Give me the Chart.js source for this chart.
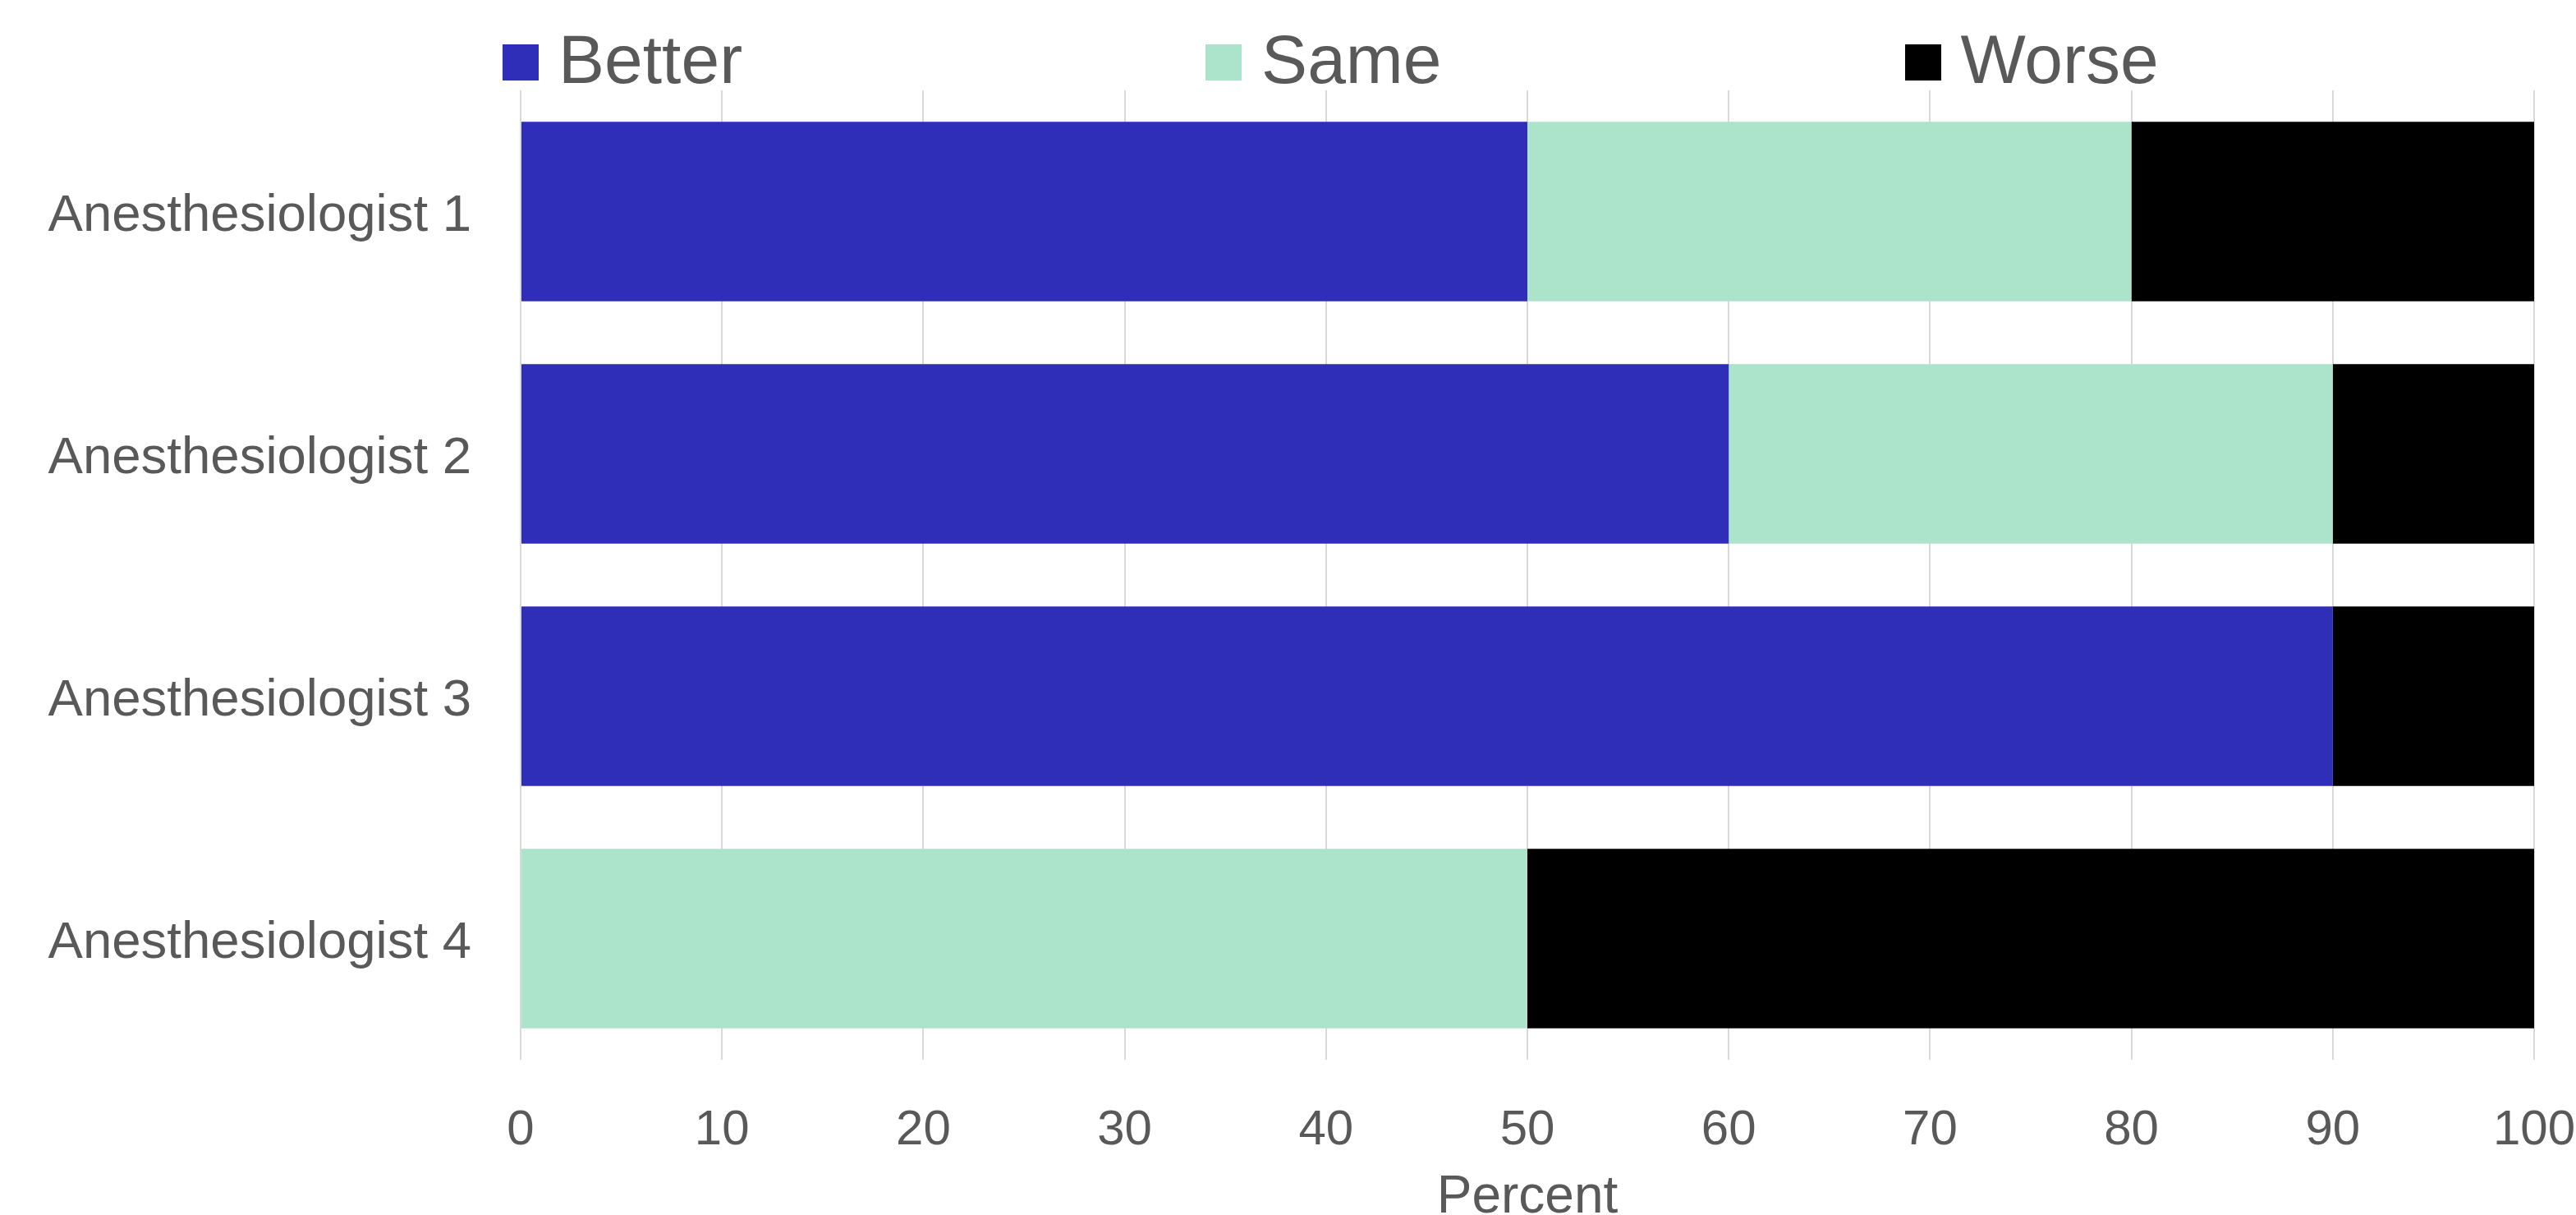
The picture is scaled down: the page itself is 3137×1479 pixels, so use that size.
<!DOCTYPE html>
<html>
<head>
<meta charset="utf-8">
<script src="https://cdn.jsdelivr.net/npm/chart.js@4.4.1/dist/chart.umd.min.js"></script>
<style>
  html, body { margin: 0; padding: 0; background: #fff; }
  #wrap { position: relative; width: 3137px; height: 1479px; }
  #legend {
    position: absolute; left: 612px; top: 30px;
    display: flex; gap: 564px; align-items: center;
    font-family: "Liberation Sans", Arial, sans-serif; font-size: 84px; color: #595959;
  }
  .item { display: flex; align-items: center; gap: 24px; line-height: 1; }
  .swatch { width: 44px; height: 44px; position: relative; top: 4px; }
</style>
</head>
<body>
<div id="wrap">
  <canvas id="chart" width="3137" height="1479"></canvas>
  <div id="legend"></div>
</div>
<script>
// categories and series
const categories = ['Anesthesiologist 1', 'Anesthesiologist 2', 'Anesthesiologist 3', 'Anesthesiologist 4'];
const better = [50, 60, 90, 0];
const same = [30, 30, 0, 50];
const worse = [20, 10, 10, 50];
const seriesNames = ['Better', 'Same', 'Worse'];
const seriesColors = ['#2E2EB8', '#ACE3CB', '#000000'];

const TEXT = '#595959';
const FONT = '"Liberation Sans", Arial, sans-serif';

const ctx = document.getElementById('chart').getContext('2d');
const chart = new Chart(ctx, {
  type: 'bar',
  data: {
    labels: categories,
    datasets: [better, same, worse].map((vals, i) => ({
      label: seriesNames[i],
      data: vals,
      backgroundColor: seriesColors[i],
      borderWidth: 0,
      categoryPercentage: 1,
      barPercentage: 0.74
    }))
  },
  options: {
    indexAxis: 'y',
    responsive: false,
    animation: false,
    layout: { padding: { top: 110, right: 51, bottom: 0, left: 0 } },
    plugins: { legend: { display: false }, tooltip: { enabled: false } },
    scales: {
      x: {
        stacked: true,
        min: 0, max: 100,
        ticks: { stepSize: 10, color: TEXT, font: { family: FONT, size: 60 }, padding: 50, maxRotation: 0 },
        grid: { color: '#D9D9D9', lineWidth: 2, drawTicks: false },
        border: { display: false },
        title: { display: true, text: 'Percent', color: TEXT, font: { family: FONT, size: 64, lineHeight: 0.66 }, padding: { top: 0, bottom: 0 } },
        // the last label runs off the edge in the original, so no extra room for it
        afterFit: (s) => { s.height = 189; s.paddingRight = 0; s.paddingLeft = 0; }
      },
      y: {
        stacked: true,
        ticks: { color: TEXT, font: { family: FONT, size: 63.5 }, padding: 60, labelOffset: 6 },
        grid: { display: false, drawTicks: false },
        border: { display: false },
        afterFit: (s) => { s.width = 634; }
      }
    }
  }
});

// legend built from the chart's datasets
const legendDiv = document.getElementById('legend');
chart.data.datasets.forEach(ds => {
  const item = document.createElement('div');
  item.className = 'item';
  item.innerHTML = `<div class="swatch" style="background:${ds.backgroundColor}"></div><span>${ds.label}</span>`;
  legendDiv.appendChild(item);
});
</script>
</body>
</html>
